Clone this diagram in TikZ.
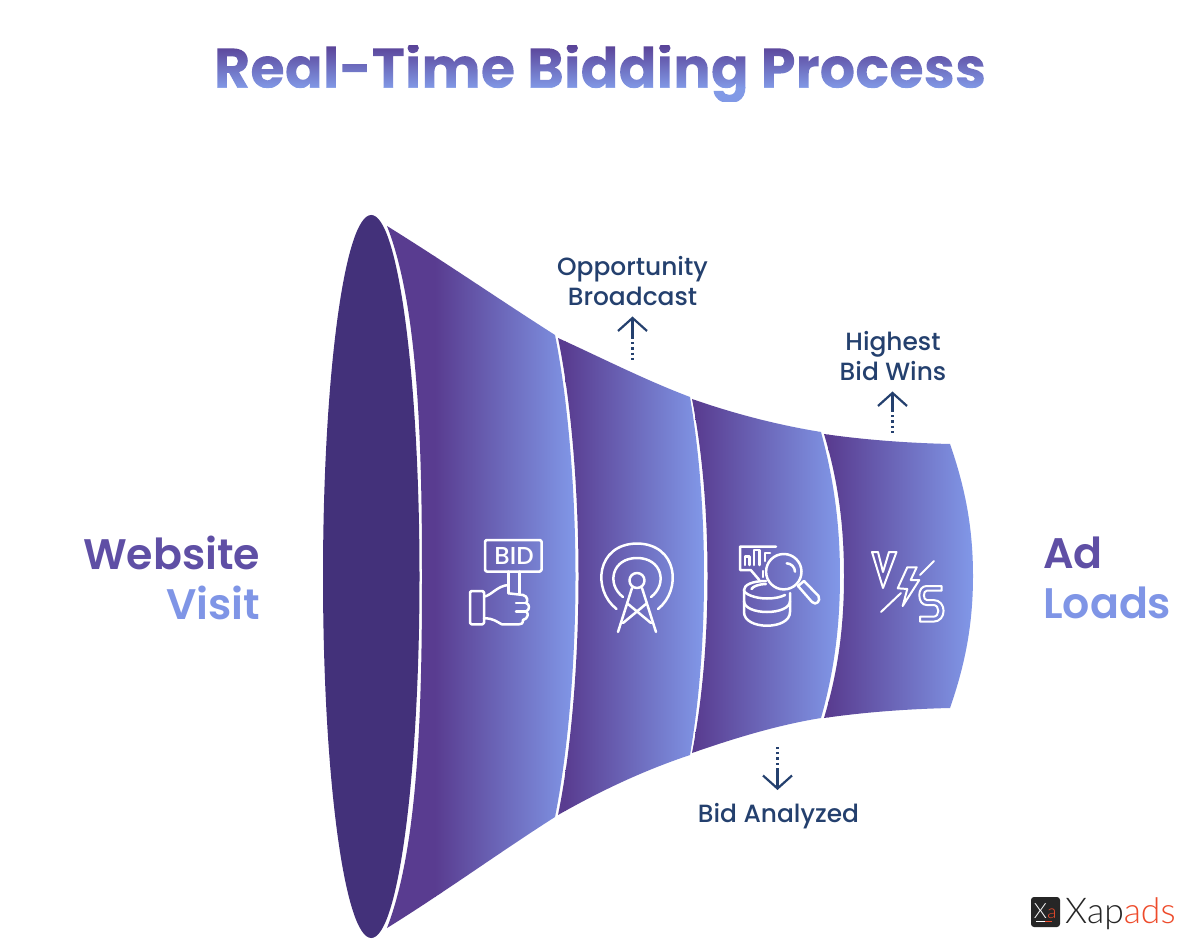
\documentclass[tikz,border=0pt]{standalone}
\usepackage{fontspec}
\setmainfont{Poppins}
\newfontfamily\logofont{Lato Light}
\newfontfamily\labfont{Poppins Medium}
\newfontfamily\sidefont{Poppins SemiBold}
\usetikzlibrary{arrows.meta}
\definecolor{ellcol}{HTML}{43317A}
\definecolor{gdark}{HTML}{593C90}
\definecolor{glight}{HTML}{8198E8}
\definecolor{labcol}{HTML}{24406E}
\definecolor{purpletext}{HTML}{5F4FA5}
\definecolor{bluetext}{HTML}{7F95E6}
\definecolor{titletop}{HTML}{5A4398}
\definecolor{titlebot}{HTML}{8199E6}
\definecolor{xared}{HTML}{EE4B2B}
\pgfdeclarehorizontalshading{segA}{100bp}{color(0bp)=(gdark);color(25bp)=(gdark);color(75bp)=(glight);color(100bp)=(glight)}
\pgfdeclarehorizontalshading{segB}{100bp}{color(0bp)=(gdark);color(25bp)=(gdark);color(75bp)=(glight);color(100bp)=(glight)}
\pgfdeclarehorizontalshading{segC}{100bp}{color(0bp)=(gdark);color(25bp)=(gdark);color(75bp)=(glight);color(100bp)=(glight)}
\pgfdeclarehorizontalshading{segD}{100bp}{color(0bp)=(gdark);color(25bp)=(gdark);color(75bp)=(glight);color(100bp)=(glight)}
\tikzset{
  lab/.style={text=labcol,align=center,font=\fontsize{24.9}{30}\labfont},
  big/.style={font=\fontsize{42.7}{50}\sidefont,anchor=east,inner sep=0pt},
  bigl/.style={font=\fontsize{42.7}{50}\sidefont,anchor=west,inner sep=0pt},
  solidarrow/.style={draw=labcol,line width=2.2pt,-{Straight Barb[length=13pt,width=29pt,line width=2.2pt]}},
  dotline/.style={draw=labcol,line width=2.2pt,dash pattern=on 2.2pt off 3pt},
  icon/.style={draw=white,line width=2.5pt,line cap=round,line join=round},
}
\newcommand{\gradbar}[4]{% path, x0, x1, shading
  \begin{scope}
    \clip #1;
    \fill[gdark] (#2-60,150) rectangle (#2+1,1000);
    \shade[shading=#4] (#2,150) rectangle (#3,1000);
  \end{scope}}
\newsavebox{\titlebox}
\newcommand{\gradtitle}{%
  \sbox{\titlebox}{\fontsize{56}{60}\selectfont\bfseries Real-Time Bidding Process}%
  \special{pdf:code q 7 Tr}\usebox{\titlebox}\special{pdf:code 0 Tr}%
  \hskip-\wd\titlebox
  \raisebox{-14pt}{\tikz[x=1pt,y=1pt]{\fill[titlebot] (0,0) rectangle (\wd\titlebox,15); \shade[top color=titletop,bottom color=titlebot] (0,14) rectangle (\wd\titlebox,56);}}%
  \special{pdf:code Q}}
\begin{document}
\begin{tikzpicture}[x=1pt,y=-1pt]
\useasboundingbox (0,0) rectangle (1200,949);
\fill[white] (0,0) rectangle (1200,949);
\node (title) at (600,73) {\gradtitle};

% funnel
\fill[ellcol] (371.25,215) .. controls (344.6,215) and (323,377) .. (323,576.5)
   .. controls (323,776) and (344.6,938) .. (371.25,938)
   .. controls (397.9,938) and (419.5,776) .. (419.5,576.5)
   .. controls (419.5,377) and (397.9,215) .. (371.25,215) -- cycle;
\gradbar{(387,226) .. controls (445,262) and (500,300) .. (555,335)
   .. controls (568,400) and (575.5,490) .. (575.5,576.5) .. controls (575.5,663) and (568,752) .. (555,817)
   .. controls (500,852) and (445,892) .. (387,928)
   .. controls (418,848) and (422,713) .. (422,576.5) .. controls (422,440) and (418,305) .. (387,226) -- cycle}{435}{576}{segA}
\gradbar{(558,338) .. controls (602,358) and (645,380) .. (690,397)
   .. controls (699,450) and (704,510) .. (704,576) .. controls (704,642) and (699,702) .. (690,755)
   .. controls (645,770) and (602,790) .. (558,815)
   .. controls (571,752) and (578.5,663) .. (578.5,576.5) .. controls (578.5,490) and (571,400) .. (558,338) -- cycle}{565}{704}{segB}
\gradbar{(692,399) .. controls (735,414) and (778,425) .. (821,432)
   .. controls (834,480) and (840,525) .. (840,576) .. controls (840,627) and (834,672) .. (821,718)
   .. controls (778,725) and (735,738) .. (692,753)
   .. controls (702,702) and (707.5,642) .. (707.5,576) .. controls (707.5,510) and (702,450) .. (692,399) -- cycle}{695}{840}{segC}
\gradbar{(824,434) .. controls (866,440) and (908,443) .. (950,444)
   .. controls (966,490) and (973,530) .. (973,576) .. controls (973,622) and (966,662) .. (950,708)
   .. controls (908,709) and (866,712) .. (824,718)
   .. controls (838,672) and (844,627) .. (844,576) .. controls (844,525) and (838,480) .. (824,434) -- cycle}{828}{973}{segD}

% side labels
\node[big,text=purpletext] (website) at (260.5,553) {Website};
\node[big,text=bluetext] (visit) at (260.5,603) {Visit};
\node[bigl,text=purpletext] (ad) at (1043,553) {Ad};
\node[bigl,text=bluetext] (loads) at (1043,603) {Loads};

% top/bottom labels
\node[lab] (opp) at (632.5,281.5) {Opportunity\\Broadcast};
\node[lab] (high) at (893,356.5) {Highest\\Bid Wins};
\node[lab] (ana) at (778.5,816) {Bid Analyzed};

\coordinate (a1s) at (632.5,337); \coordinate (a1t) at (632.5,316.5); \coordinate (a1e) at (632.5,360);
\coordinate (a2s) at (892.5,410); \coordinate (a2t) at (892.5,391.5); \coordinate (a2e) at (892.5,434);
\coordinate (a3s) at (777.5,770); \coordinate (a3t) at (777.5,790); \coordinate (a3e) at (777.5,746);
\draw[solidarrow] (a1s) -- (a1t); \draw[dotline] (a1s) -- (a1e);
\draw[solidarrow] (a2s) -- (a2t); \draw[dotline] (a2s) -- (a2e);
\draw[solidarrow] (a3s) -- (a3t); \draw[dotline] (a3s) -- (a3e);

% BID icon
\draw[icon,rounded corners=1.5pt] (485,540) rectangle (541.5,571.5);
\node[text=white,font=\fontsize{24.5}{26}\labfont,inner sep=0pt] (bidt) at (514,556) {BID};
\draw[icon] (508.3,571.5) -- (508.3,593) (519.7,571.5) -- (519.7,594);
\draw[icon,rounded corners=1.5pt] (470,591) rectangle (484,624.3);
\draw[icon] (484,596.7) .. controls (492,595) and (497,586) .. (508.3,585);
\draw[icon] (508.3,593.3) -- (523,595) .. controls (528,596) and (528,602) .. (526,603)
  .. controls (530,604) and (530,610) .. (526,611.5) .. controls (529,613) and (528,619) .. (523,620)
  .. controls (523,624) and (521,624.3) .. (519,624.3) -- (501.7,624.3) .. controls (497,622) and (494,618.3) .. (484,618.3);
\draw[icon] (516,603) -- (526,603) (516,611.5) -- (526,611.5);

% antenna icon
\coordinate (ac) at (637,580.5);
\draw[icon] (ac) circle (7.5);
\draw[icon] (616.5,609) .. controls (592,590) and (596,544) .. (637,543.5) .. controls (678,544) and (682,590) .. (658,609);
\draw[icon] (623,597) .. controls (606,584) and (612,558) .. (637,558) .. controls (662,558) and (668,584) .. (651,597);
\draw[icon] (632,588) -- (618,632) (642,588) -- (656,632);
\draw[icon] (628,604) -- (651,623) (646,604) -- (623,623);

% data icon
\draw[icon] (776,546.7) -- (740,546.7) -- (740,570) -- (750.7,570) -- (759.3,580);
\draw[icon] (763,571) -- (763,577);
\draw[icon] (745,565) -- (745,556.7) -- (749.5,556.7) -- (749.5,565)
  (754,565) -- (754,550) -- (759.3,550) -- (759.3,565) (765,561) -- (765,553) -- (770,553);
\draw[icon] (766,581) .. controls (752,581) and (744,585) .. (744,590) .. controls (744,594) and (755,598.5) .. (767,598.5)
  .. controls (775,598.5) and (781,597) .. (785,595);
\draw[icon] (744,590) -- (744,612) .. controls (744,621) and (755,625.7) .. (767,625.7) .. controls (779,625.7) and (790,621) .. (790,612) -- (790,593);
\draw[icon] (744,601) .. controls (744,608) and (755,612) .. (767,612) .. controls (779,612) and (790,608) .. (790,601);
\draw[icon] (751.5,589) .. controls (753,586) and (760,584) .. (766,584);
\draw[icon] (783.8,571.7) circle (17.7);
\draw[icon] (786.7,563.3) .. controls (791,563.5) and (795,567) .. (795,571.7);
\draw[icon] (798,586) -- (804,581) -- (818.5,596) .. controls (821,601) and (816,606) .. (812,602) -- cycle;

% VS icon
\draw[icon,line width=2pt] (872,552) -- (883,588) -- (896.5,552) -- (889,552) -- (883,572) -- (878,552) -- cycle;
\draw[icon,line width=2pt] (907.3,567.3) -- (916.7,567.3) -- (910.7,580) -- (919.3,580) -- (902.7,606) -- (907.3,589) -- (897.7,588.3) -- cycle;
\draw[icon,line width=2pt] (881,612) -- (901,593) (920,575) -- (934,561);
\draw[icon,line width=2pt] (941.7,586) -- (926.7,586) .. controls (922,586) and (919.3,590) .. (919.3,595) .. controls (919.3,601) and (922,605) .. (926.7,605) -- (933.3,605)
  .. controls (940,605) and (940,616.7) .. (933.3,616.7) -- (920,616.7) -- (920,621.7) -- (933.3,621.7)
  .. controls (947,621.7) and (947,600) .. (933.3,600) -- (926.7,600) .. controls (923,600) and (923,590.7) .. (926.7,590.7) -- (941.7,590.7) -- cycle;

% logo
\fill[black!85,rounded corners=3pt] (1031,897) rectangle (1060,927);
\node[text=white,font=\fontsize{21}{22}\logofont,inner sep=0pt,anchor=base] (lx) at (1040.3,918) {X};
\node[text=xared,font=\fontsize{19}{22}\logofont,inner sep=0pt,anchor=base] (la) at (1052,918) {a};
\fill[white] (1036,920.5) rectangle (1045,921.5);
\fill[xared] (1045,920.5) rectangle (1052,921.5);
\node[font=\fontsize{35.5}{36}\logofont,inner sep=0pt,anchor=base west,text=black!85] (lt) at (1065,923) {Xap\textcolor{xared}{ads}};
\end{tikzpicture}
\end{document}
